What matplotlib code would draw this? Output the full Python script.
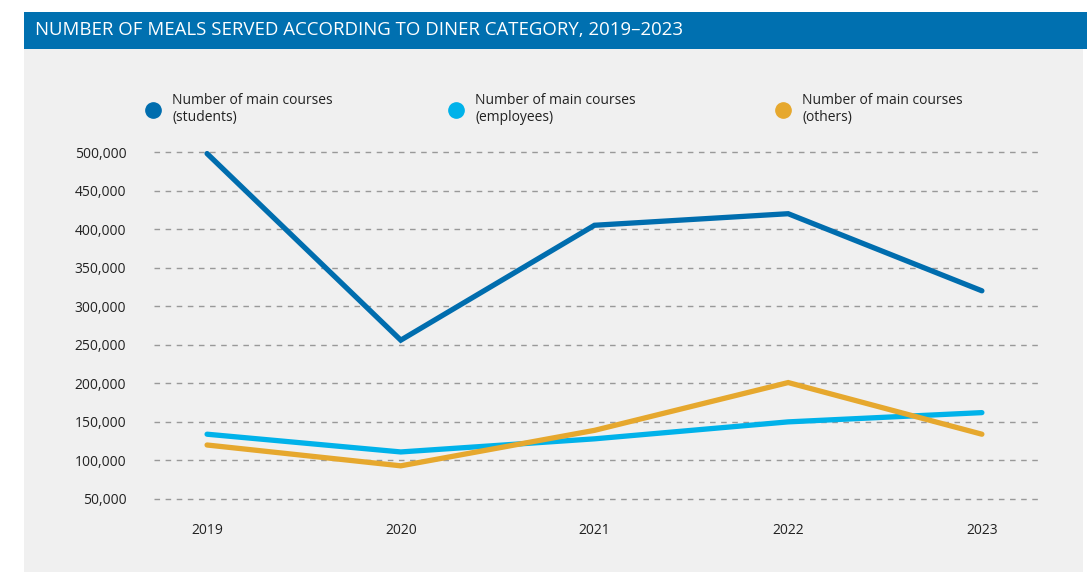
import matplotlib
matplotlib.use("Agg")
import matplotlib.pyplot as plt
from matplotlib.patches import Rectangle
from matplotlib.lines import Line2D

plt.rcParams['font.family'] = ['Open Sans', 'DejaVu Sans']

years = [2019, 2020, 2021, 2022, 2023]
students = [498000, 256000, 405000, 420000, 320000]
employees = [134000, 111000, 128000, 150000, 162000]
others = [120000, 93000, 139000, 201000, 134000]

series_labels = ["Number of main courses\n(students)",
                 "Number of main courses\n(employees)",
                 "Number of main courses\n(others)"]
colors = ["#006DAE", "#00B2EA", "#E6A82E"]
yticks = [50000, 100000, 150000, 200000, 250000, 300000, 350000, 400000, 450000, 500000]

W, H = 1087, 572
fig = plt.figure(figsize=(W / 100, H / 100), dpi=100)
fig.patch.set_facecolor("white")

# background panel and header bar
fig.patches.append(Rectangle((24 / W, 0), (1083 - 24) / W, (H - 48) / H,
                             transform=fig.transFigure, facecolor="#F0F0F0",
                             edgecolor="none", zorder=-2))
fig.patches.append(Rectangle((24 / W, (H - 49) / H), (W - 24) / W, 37 / H,
                             transform=fig.transFigure, facecolor="#0070B0",
                             edgecolor="none", zorder=-2))
fig.text(35 / W, (H - 30) / H,
         "NUMBER OF MEALS SERVED ACCORDING TO DINER CATEGORY, 2019\u20132023",
         color="white", fontsize=13.4, va="center", ha="left")

ax = fig.add_axes([154 / W, (H - 510) / H, (1040 - 154) / W, 370 / H])
ax.set_facecolor("none")
for s in ax.spines.values():
    s.set_visible(False)

for vals, c in zip([students, employees, others], colors):
    ax.plot(years, vals, color=c, lw=3.8, solid_capstyle="round",
            solid_joinstyle="miter", zorder=3)

ax.set_xlim(2018.726, 2023.30)
ax.set_ylim(35700, 515600)
ax.set_yticks(yticks)
ax.set_yticklabels([f"{v:,}" for v in yticks])
ax.set_xticks(years)
ax.set_xticklabels([str(y) for y in years])
ax.tick_params(axis="both", length=0, labelsize=10, labelcolor="#222222")
ax.tick_params(axis="y", pad=20)
ax.tick_params(axis="x", pad=9)
ax.yaxis.grid(True, color="#999999", lw=1, dashes=(4, 4))
ax.set_axisbelow(True)

# one legend per series so each entry sits where the reference has it
legend_x = [143, 446, 773]
for c, lab, lx in zip(colors, series_labels, legend_x):
    h = Line2D([], [], marker="o", color=c, lw=0, markersize=11)
    leg = fig.legend([h], [lab], loc="upper left",
                     bbox_to_anchor=(lx / W, (H - 90) / H), frameon=False,
                     fontsize=10, handletextpad=0.9, handlelength=1.0,
                     borderpad=0.2, borderaxespad=0)
    for t in leg.get_texts():
        t.set_color("#222222")

fig.savefig("out.png", dpi=100)
